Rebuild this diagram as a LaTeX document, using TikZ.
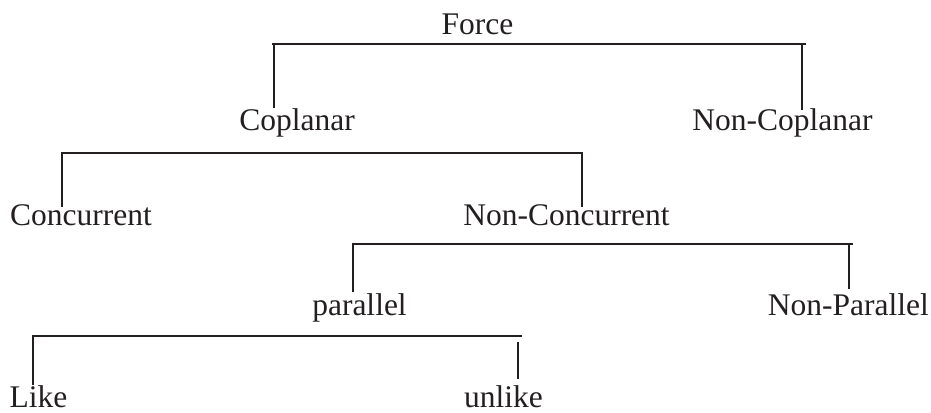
\documentclass[tikz,border=0pt]{standalone}
\usepackage{fontspec}
\setmainfont{Liberation Serif}
\definecolor{ink}{HTML}{231F20}
\begin{document}
\begin{tikzpicture}[x=1pt,y=-1pt,
  term/.style={anchor=base,inner sep=0pt,font=\fontsize{31.5}{36}\selectfont,text=ink},
  bracket/.style={draw=ink,line width=2.2pt}]
\useasboundingbox (0,0) rectangle (931,412);

% labels of the classification tree
\node[term] (force)     at (477.5,35) {Force};
\node[term] (copl)      at (297,130)  {Coplanar};
\node[term] (noncopl)   at (782.5,130) {Non-Coplanar};
\node[term] (conc)      at (81,225)   {Concurrent};
\node[term] (nonconc)   at (566.5,225) {Non-Concurrent};
\node[term] (par)       at (359.5,315) {parallel};
\node[term,anchor=base east] (nonpar) at (929,315) {Non-Parallel};
\node[term] (like)      at (38.5,407) {Like};
\node[term] (unlike)    at (503.5,407) {unlike};

% bar under "Force"
\coordinate (b1l) at (272,44);  \coordinate (b1r) at (806,44);
\coordinate (d1a) at (274,44);  \coordinate (d1b) at (274,108);
\coordinate (d1c) at (802,44);  \coordinate (d1d) at (802,110);
\draw[bracket] (b1l) -- (b1r);
\draw[bracket] (d1a) -- (d1b);
\draw[bracket] (d1c) -- (d1d);

% bar under "Coplanar"
\coordinate (b2l) at (61,153);  \coordinate (b2r) at (583,153);
\coordinate (d2a) at (62,153);  \coordinate (d2b) at (62,207);
\coordinate (d2c) at (582,153); \coordinate (d2d) at (582,207);
\draw[bracket] (b2l) -- (b2r);
\draw[bracket] (d2a) -- (d2b);
\draw[bracket] (d2c) -- (d2d);

% bar under "Non-Concurrent"
\coordinate (b3l) at (352,244); \coordinate (b3r) at (853,244);
\coordinate (d3a) at (353,244); \coordinate (d3b) at (353,292);
\coordinate (d3c) at (849,244); \coordinate (d3d) at (849,289);
\draw[bracket] (b3l) -- (b3r);
\draw[bracket] (d3a) -- (d3b);
\draw[bracket] (d3c) -- (d3d);

% bar under "parallel"
\coordinate (b4l) at (32,336);  \coordinate (b4r) at (522,336);
\coordinate (d4a) at (33,336);  \coordinate (d4b) at (33,385);
\coordinate (d4c) at (518,342); \coordinate (d4d) at (518,379);
\draw[bracket] (b4l) -- (b4r);
\draw[bracket] (d4a) -- (d4b);
\draw[bracket] (d4c) -- (d4d);
\end{tikzpicture}
\end{document}
